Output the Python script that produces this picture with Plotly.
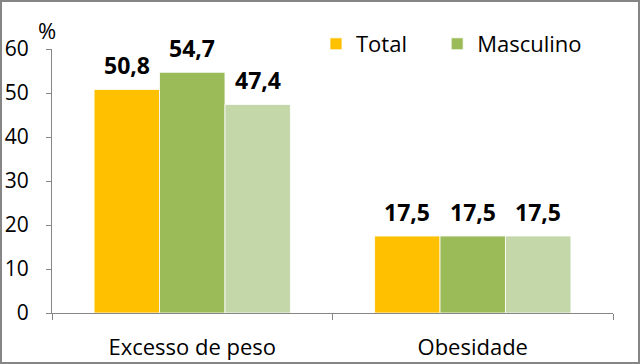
import plotly.graph_objects as go

categories = ["Excesso de peso", "Obesidade"]
total = [50.8, 17.5]
masculino = [54.7, 17.5]
feminino = [47.4, 17.5]
y_ticks = [0, 10, 20, 30, 40, 50, 60]

FONT = "'Open Sans', sans-serif"
W, H = 640, 364
ML, MR, MT, MB = 52, 27, 49, 51
pw, ph = W - ML - MR, H - MT - MB
BARGAP = 0.30

series = [
    ("Total", total, "#FFC000", "legend"),
    ("Masculino", masculino, "#9BBB59", "legend2"),
    ("Feminino", feminino, "#C4D7A9", None),
]

fig = go.Figure()
n = len(series)
bw = (1 - BARGAP) / n
for i, (name, vals, color, leg) in enumerate(series):
    fig.add_trace(go.Bar(
        x=categories, y=vals, name=name, showlegend=leg is not None,
        legend=leg if leg else "legend",
        marker=dict(color=color, line=dict(color="rgba(255,255,255,0.8)", width=1)),
        cliponaxis=False,
    ))
    off = (i - (n - 1) / 2) * bw
    for j, v in enumerate(vals):
        fig.add_annotation(
            x=j + off, y=v, xref="x", yref="y", text=f"{v:.1f}".replace(".", ","),
            showarrow=False, yanchor="bottom", xanchor="center", yshift=6,
            font=dict(family=FONT, size=23, color="#000000", weight="bold"),
        )

leg_common = dict(orientation="h", y=1 + 5 / ph, xanchor="left", yanchor="middle",
                  font=dict(size=22), bgcolor="rgba(0,0,0,0)")
fig.update_layout(
    width=W, height=H,
    margin=dict(l=ML, r=MR, t=MT, b=MB, autoexpand=False),
    barmode="group", bargap=BARGAP, bargroupgap=0,
    plot_bgcolor="white", paper_bgcolor="white",
    font=dict(family=FONT, size=22, color="#000000"),
    legend=dict(x=0.4706, **leg_common),
    legend2=dict(x=0.6866, **leg_common),
    showlegend=True,
)
fig.update_yaxes(range=[0, 60], tickvals=y_ticks, showgrid=False, showline=True,
                 linecolor="#868686", linewidth=1, ticks="outside", ticklen=5,
                 tickcolor="#868686", ticklabelstandoff=13, zeroline=False,
                 automargin=False, tickfont=dict(size=21))
fig.update_xaxes(showline=True, linecolor="#868686", linewidth=1, ticks="outside",
                 tickson="boundaries", ticklen=6, tickcolor="#868686",
                 ticklabelstandoff=15, automargin=False)

fig.add_annotation(text="%", xref="paper", yref="paper", x=-5 / pw, y=1 + 19 / ph,
                   showarrow=False, font=dict(size=22, family=FONT),
                   xanchor="center", yanchor="middle")
fig.add_shape(type="rect", xref="paper", yref="paper",
              x0=-(ML - 1) / pw, x1=1 + (MR - 1) / pw,
              y0=-(MB - 1) / ph, y1=1 + (MT - 1) / ph,
              line=dict(color="#868686", width=2), layer="above")

fig.write_html("out.html", config={"displayModeBar": False},
               post_script="document.body.style.margin='0';")
